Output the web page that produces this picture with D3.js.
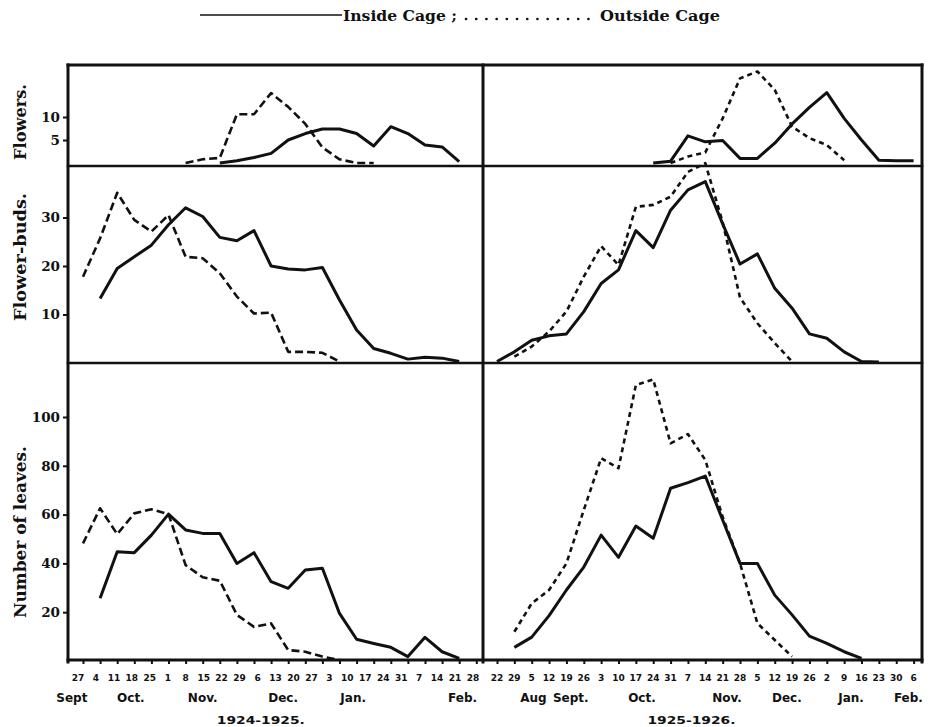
<!DOCTYPE html>
<html>
<head>
<meta charset="utf-8">
<script src="https://cdn.jsdelivr.net/npm/d3@7/dist/d3.min.js"></script>
<style>
  body { margin: 0; background: #fff; }
  svg { display: block; }
</style>
</head>
<body>
<svg id="chart" width="944" height="727"></svg>
<script>
// ---- weekly sampling dates (day of month) ----
const datesA = ["27","4","11","18","25","1","8","15","22","29","6","13","20","27","3","10","17","24","31","7","14","21","28"];
const datesB = ["22","29","5","12","19","26","3","10","17","24","31","7","14","21","28","5","12","19","26","2","9","16","23","30","6"];
const monthsA = ["Sept","Oct.","Nov.","Dec.","Jan.","Feb."];
const monthsB = ["Aug","Sept.","Oct.","Nov.","Dec.","Jan.","Feb."];
const seasons = ["1924-1925.", "1925-1926."];
const series = ["Inside Cage ;", "Outside Cage"];
const panelTitles = ["Flowers.", "Flower-buds.", "Number of leaves."];
const ticksFlowers = [5, 10];
const ticksBuds = [10, 20, 30];
const ticksLeaves = [20, 40, 60, 80, 100];

// ---- 1924-1925 counts ----
const flowersInA  = [null,null,null,null,null,null,null,null,0,0.5,1.2,2.1,5,6.4,7.4,7.4,6.4,3.7,7.9,6.4,3.9,3.5,0.3];
const flowersOutA = [null,null,null,null,null,null,0,0.8,1.1,10.6,10.6,15.2,12.2,8.5,3.4,0.8,0,0,null,null,null,null,null];
const budsInA     = [null,13.3,19.5,21.9,24.3,28.5,32,30.2,25.9,25.2,27.3,20,19.4,19.2,19.7,13,6.8,3,2,0.8,1.2,1,0.3];
const budsOutA    = [17.8,25.7,35.1,29.5,27.1,30.5,21.9,21.6,18.5,13.7,10.2,10.4,2.3,2.3,2.1,0.3,null,null,null,null,null,null,null];
const leavesInA   = [null,25.7,44.8,44.4,51.6,60.2,53.7,52.3,52.3,40,44.4,32.5,29.8,37.3,38,19.5,8.9,7.2,5.6,1.8,9.7,3.8,1.1];
const leavesOutA  = [48.2,62.6,52,60.5,62.2,60.2,39.3,34.3,32.9,18.9,14,15.4,4.5,3.8,1.8,0.4,null,null,null,null,null,null,null];

// ---- 1925-1926 counts ----
const flowersInB  = [null,null,null,null,null,null,null,null,null,0,0.4,5.9,4.6,4.9,1,1,4.3,8.5,12.1,15.3,9.7,5,0.6,0.5,0.5];
const flowersOutB = [null,null,null,null,null,null,null,null,null,null,0,1.4,2.3,9.7,18.4,19.9,15.9,7.9,5.4,3.9,0.6,null,null,null,null];
const budsInB     = [0.3,2.3,4.7,5.6,6,10.6,16.4,19.2,27.3,23.8,31.5,35.7,37.4,28.7,20.4,22.5,15.4,11.3,6,5.1,2.3,0.3,0.2,null,null];
const budsOutB    = [null,1.3,3.4,6.5,10.6,17.8,24.1,20.2,32.2,32.6,34.3,39.4,41.2,29,13.5,8.2,4.1,0.3,null,null,null,null,null,null,null];
const leavesInB   = [null,5.6,9.8,18.6,29.1,38.5,51.6,42.5,55.3,50.3,70.8,73.1,75.8,57.8,40,40,27,18.9,10.2,7.2,3.8,1.1,null,null,null];
const leavesOutB  = [null,12,23.6,29.1,40,61.9,83.1,79,113.1,115.4,89.2,93,82.4,59,40,15.5,8.6,1.8,null,null,null,null,null,null,null];

// ---- layout ----
const svg = d3.select("#chart");
const F = { x0: 68, xm: 483, x1: 922, y0: 65, y1: 166, y2: 363, y3: 660 };
const ink = "#111";
const serif = "'DejaVu Serif', 'Liberation Serif', serif";
const sans = "'DejaVu Sans', 'Liberation Sans', sans-serif";

const xA = d3.scaleLinear().domain([0, 22]).range([83, 459.2]);
const xB = d3.scaleLinear().domain([0, 24]).range([497, 913.6]);
const xAlab = d3.scaleLinear().domain([0, 22]).range([78, 473]);

const yFl = d3.scaleLinear().domain([0, 10]).range([163, 117]);
const yBu = d3.scaleLinear().domain([0, 30]).range([363, 217.5]);
const yLe = d3.scaleLinear().domain([0, 100]).range([661, 417]);

// month label anchors, in week-index units of each season's x scale
const monthAtA = [-0.65, 2.8, 7, 11.7, 15.8, 22.2];
const monthAtB = [2.1, 4.25, 8.35, 13.25, 16.7, 20.4, 23.7];

// ---- curves ----
function drawSeries(values, x, y, dashed, dash) {
  const line = d3.line()
    .defined(d => d != null)
    .x((d, i) => x(i))
    .y(d => y(d));
  svg.append("path")
    .datum(values)
    .attr("d", line)
    .attr("fill", "none")
    .attr("stroke", ink)
    .attr("stroke-width", dashed ? 2.6 : 3)
    .attr("stroke-linejoin", "round")
    .attr("stroke-dasharray", dashed ? dash : null);
}

drawSeries(flowersOutA, xA, yFl, true, "8,4");
drawSeries(flowersInA, xA, yFl, false);
drawSeries(budsOutA, xA, yBu, true, "8,4");
drawSeries(budsInA, xA, yBu, false);
drawSeries(leavesOutA, xA, yLe, true, "8,4");
drawSeries(leavesInA, xA, yLe, false);

drawSeries(flowersOutB, xB, yFl, true, "5,4");
drawSeries(flowersInB, xB, yFl, false);
drawSeries(budsOutB, xB, yBu, true, "5,4");
drawSeries(budsInB, xB, yBu, false);
drawSeries(leavesOutB, xB, yLe, true, "5,4");
drawSeries(leavesInB, xB, yLe, false);

// ---- frame ----
const frame = svg.append("g").attr("stroke", ink).attr("fill", "none").attr("stroke-linecap", "square");
frame.append("line").attr("x1", F.x0).attr("x2", F.x1).attr("y1", F.y0).attr("y2", F.y0).attr("stroke-width", 3);
frame.append("line").attr("x1", F.x0).attr("x2", F.x1).attr("y1", F.y1).attr("y2", F.y1).attr("stroke-width", 2.5);
frame.append("line").attr("x1", F.x0).attr("x2", F.x1).attr("y1", F.y2).attr("y2", F.y2).attr("stroke-width", 2.5);
frame.append("line").attr("x1", F.x0).attr("x2", F.x1).attr("y1", F.y3).attr("y2", F.y3).attr("stroke-width", 3);
frame.append("line").attr("x1", F.x0).attr("x2", F.x0).attr("y1", F.y0).attr("y2", F.y3 + 2).attr("stroke-width", 3);
frame.append("line").attr("x1", F.xm).attr("x2", F.xm).attr("y1", F.y0).attr("y2", F.y3 + 2).attr("stroke-width", 3);
frame.append("line").attr("x1", F.x1).attr("x2", F.x1).attr("y1", F.y0).attr("y2", F.y3 + 2).attr("stroke-width", 3);

// ---- left value axes ----
function valueAxis(scale, values) {
  const g = svg.append("g")
    .attr("transform", `translate(${F.x0},0)`)
    .call(d3.axisLeft(scale).tickValues(values).tickSize(5).tickPadding(3).tickFormat(d3.format("d")));
  g.select(".domain").remove();
  g.selectAll(".tick line").attr("stroke", ink).attr("stroke-width", 2);
  g.selectAll(".tick text")
    .attr("fill", ink)
    .attr("font-family", serif)
    .attr("font-weight", "bold")
    .attr("font-size", 13.5);
}
valueAxis(yFl, ticksFlowers);
valueAxis(yBu, ticksBuds);
valueAxis(yLe, ticksLeaves);

// ---- panel titles (rotated) ----
const titleAt = [[20, 122, 76], [20, 257, 128], [20, 532, 172]];
panelTitles.forEach((t, i) => {
  const [cx, cy, len] = titleAt[i];
  svg.append("text")
    .attr("transform", `translate(${cx + 6},${cy}) rotate(-90)`)
    .attr("text-anchor", "middle")
    .attr("font-family", serif)
    .attr("font-weight", "bold")
    .attr("font-size", 16)
    .attr("fill", ink)
    .attr("textLength", len)
    .attr("lengthAdjust", "spacingAndGlyphs")
    .text(t);
});

// ---- date axes ----
function dateAxis(x, n) {
  const g = svg.append("g")
    .attr("transform", `translate(0,${F.y3})`)
    .call(d3.axisBottom(x).tickValues(d3.range(n)).tickSize(4).tickFormat(""));
  g.select(".domain").remove();
  g.selectAll(".tick line").attr("stroke", ink).attr("stroke-width", 2);
}
dateAxis(xA, 24);
dateAxis(xB, 25);

function dateLabels(labels, x) {
  svg.append("g").selectAll("text").data(labels).join("text")
    .attr("x", (d, i) => x(i))
    .attr("y", 681)
    .attr("text-anchor", "middle")
    .attr("font-family", sans)
    .attr("font-weight", "bold")
    .attr("font-size", 9)
    .attr("fill", ink)
    .text(d => d);
}
dateLabels(datesA, xAlab);
dateLabels(datesB, xB);

function monthLabels(labels, at, x) {
  svg.append("g").selectAll("text").data(labels).join("text")
    .attr("x", (d, i) => x(at[i]))
    .attr("y", 702)
    .attr("text-anchor", "middle")
    .attr("font-family", sans)
    .attr("font-weight", "bold")
    .attr("font-size", 12)
    .attr("fill", ink)
    .text(d => d);
}
monthLabels(monthsA, monthAtA, xA);
monthLabels(monthsB, monthAtB, xB);

// season captions, centred on each half
[[xA, 10.4], [xB, 11.2]].forEach(([x, at], i) => {
  svg.append("text")
    .attr("x", x(at))
    .attr("y", 724)
    .attr("text-anchor", "middle")
    .attr("font-family", sans)
    .attr("font-weight", "bold")
    .attr("font-size", 11)
    .attr("fill", ink)
    .attr("textLength", 88)
    .attr("lengthAdjust", "spacingAndGlyphs")
    .text(seasons[i]);
});

// ---- legend ----
const lg = svg.append("g");
lg.append("line").attr("x1", 200).attr("x2", 342).attr("y1", 15).attr("y2", 15)
  .attr("stroke", ink).attr("stroke-width", 1.6);
lg.append("text").attr("x", 343).attr("y", 21)
  .attr("font-family", serif).attr("font-weight", "bold").attr("font-size", 15)
  .attr("fill", ink).attr("textLength", 114).attr("lengthAdjust", "spacingAndGlyphs")
  .text(series[0]);
lg.append("line").attr("x1", 466).attr("x2", 597).attr("y1", 19).attr("y2", 19)
  .attr("stroke", ink).attr("stroke-width", 2.6)
  .attr("stroke-linecap", "round").attr("stroke-dasharray", "0.1,10.1");
lg.append("text").attr("x", 600).attr("y", 21)
  .attr("font-family", serif).attr("font-weight", "bold").attr("font-size", 15)
  .attr("fill", ink).attr("textLength", 120).attr("lengthAdjust", "spacingAndGlyphs")
  .text(series[1]);
</script>
</body>
</html>
